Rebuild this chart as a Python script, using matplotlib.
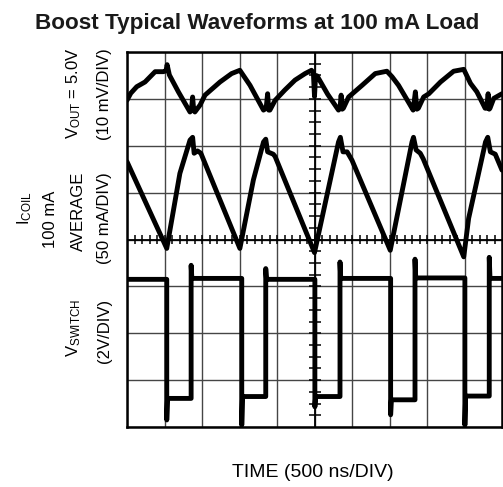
import numpy as np
import matplotlib
matplotlib.use('Agg')
import matplotlib.pyplot as plt

plt.rcParams['font.family'] = ['Liberation Sans', 'DejaVu Sans']
plt.rcParams['mathtext.default'] = 'regular'

vout_x = [0.00, 0.10, 0.26, 0.48, 0.75, 0.97, 1.04, 1.07, 1.13, 1.37, 1.68, 1.72, 1.75, 1.78, 1.81,
          1.95, 2.08, 2.48, 2.79, 3.01, 3.28, 3.64, 3.71, 3.75, 3.78, 3.81, 3.95, 4.21, 4.48, 4.75,
          4.92, 4.97, 5.00, 5.03, 5.07, 5.35, 5.64, 5.68, 5.71, 5.74, 5.77, 5.91, 6.27, 6.62, 6.93,
          7.07, 7.24, 7.55, 7.63, 7.69, 7.73, 7.77, 7.91, 8.05, 8.36, 8.71, 8.98, 9.16, 9.33, 9.55,
          9.59, 9.63, 9.66, 9.68, 9.78, 10.0]
vout_y = [6.97, 7.12, 7.26, 7.36, 7.58, 7.58, 7.60, 7.73, 7.51, 7.15, 6.72, 6.78, 7.04, 6.75, 6.72,
          6.87, 7.08, 7.36, 7.54, 7.61, 7.29, 6.76, 6.80, 7.11, 6.76, 6.76, 6.97, 7.19, 7.40, 7.54,
          7.61, 7.56, 7.05, 7.50, 7.49, 7.10, 6.76, 6.80, 7.08, 6.78, 6.80, 7.04, 7.29, 7.54, 7.59,
          7.47, 7.29, 6.87, 6.76, 7.15, 6.78, 6.80, 7.04, 7.11, 7.36, 7.59, 7.63, 7.33, 7.15, 6.80,
          6.80, 7.11, 6.78, 6.80, 7.01, 7.11]

icoil_x = [0.00, 1.06, 1.24, 1.41, 1.68, 1.75, 1.79, 1.88, 1.97, 3.01, 3.37, 3.64, 3.70, 3.75, 3.90,
           3.95, 5.00, 5.64, 5.69, 5.76, 5.87, 6.00, 7.02, 7.60, 7.64, 7.71, 7.82, 7.90, 8.98, 9.11,
           9.56, 9.62, 9.69, 9.82, 10.0]
icoil_y = [5.66, 3.81, 4.63, 5.41, 6.12, 6.18, 5.84, 5.89, 5.84, 3.81, 5.27, 6.08, 6.14, 5.87, 5.82,
           5.77, 3.72, 6.08, 6.18, 5.87, 5.87, 5.69, 3.77, 6.08, 6.18, 5.91, 5.84, 5.72, 3.63, 4.45,
           6.08, 6.18, 5.87, 5.82, 5.48]

# switch node: edges and levels per cycle
sw_fall = [1.06, 3.06, 5.01, 7.03, 9.01]
sw_rise = [1.71, 3.70, 5.68, 7.68, 9.66]
sw_high = [3.17, 3.15, 3.17, 3.18, 3.17]
sw_low = [0.61, 0.65, 0.65, 0.58, 0.66]
sw_dip = [0.15, 0.04, 0.43, 0.26, 0.04]
sw_peak = [3.45, 3.38, 3.52, 3.58, 3.62]
sw_start = 3.15

vsw_x = [0.0]
vsw_y = [sw_start]
for f, r, hi, lo, dp, pk in zip(sw_fall, sw_rise, sw_high, sw_low, sw_dip, sw_peak):
    vsw_x += [f, f, f + 0.02, r, r, r + 0.02]
    vsw_y += [vsw_y[-1], dp, lo, lo, pk, hi]
vsw_x.append(10.0)
vsw_y.append(vsw_y[-1])

W, H = 503, 487
fig = plt.figure(figsize=(W / 100, H / 100), dpi=100)
ax = fig.add_axes([127 / W, (H - 427) / H, 375 / W, 375 / H])
ax.set_xlim(0, 10)
ax.set_ylim(0, 8)
ax.set_xticks(np.arange(0, 11))
ax.set_yticks(np.arange(0, 9))
ax.tick_params(length=0, labelbottom=False, labelleft=False)
ax.grid(True, color='#454545', lw=1.0)
for s in ax.spines.values():
    s.set_linewidth(1.8)
    s.set_color('black')

# centre graticule with minor marks
ax.axhline(4, color='black', lw=1.3)
ax.axvline(5, color='black', lw=1.3)
mx = np.arange(0.2, 10, 0.2)
ax.vlines(mx, 4 - 0.09, 4 + 0.09, color='black', lw=1.1)
my = np.arange(0.25, 8, 0.25)
ax.hlines(my, 5 - 0.16, 5 + 0.16, color='black', lw=1.1)

kw = dict(color='black', lw=3.5, solid_joinstyle='round', solid_capstyle='round', clip_on=True)
ax.plot(vout_x, vout_y, **kw)
ax.plot(icoil_x, icoil_y, **kw)
ax.plot(vsw_x, vsw_y, **kw)


def px(x, y):
    return x / W, 1 - y / H


fig.text(*px(257, 29), 'Boost Typical Waveforms at 100 mA Load', fontsize=16.2,
         fontweight='bold', ha='center', va='baseline', color='#1a1a1a')
fig.text(*px(313, 477), 'TIME (500 ns/DIV)', fontsize=14, ha='center', va='baseline')

lab = dict(fontsize=12, rotation=90, ha='right', va='top')
fig.text(*px(34, 191), '$I_{COIL}$', **lab)
fig.text(*px(58, 191), '100 mA', **lab)
fig.text(*px(83, 48), '$V_{OUT}$ = 5.0V', **lab)
fig.text(*px(112, 48), '(10 mV/DIV)', **lab)
fig.text(*px(86, 172), 'AVERAGE', **lab)
fig.text(*px(112, 172), '(50 mA/DIV)', **lab)
fig.text(*px(83, 299), '$V_{SWITCH}$', **lab)
fig.text(*px(112, 299), '(2V/DIV)', **lab)

fig.savefig('out.png', dpi=100)
